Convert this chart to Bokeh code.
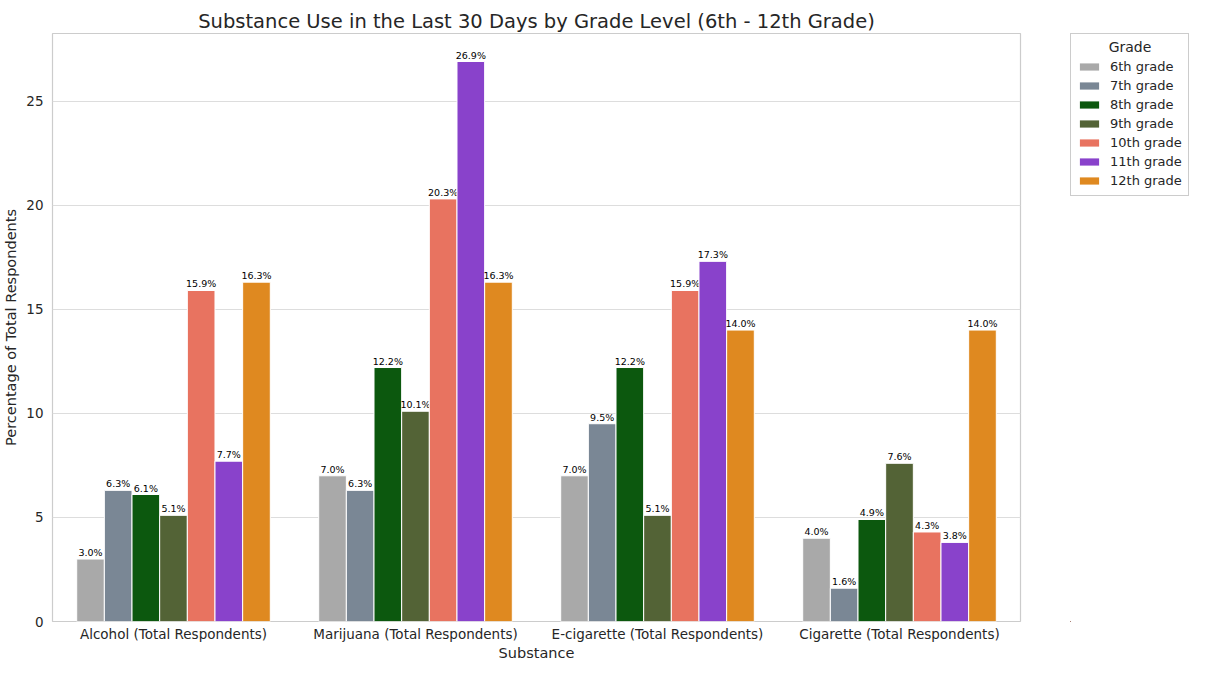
from bokeh.plotting import figure
from bokeh.models import Legend, LegendItem, FixedTicker, ColumnDataSource, Range1d, Label
from bokeh.layouts import row
from bokeh.core.properties import value
from bokeh.embed import file_html
from bokeh.resources import INLINE

substances = ["Alcohol (Total Respondents)", "Marijuana (Total Respondents)",
              "E-cigarette (Total Respondents)", "Cigarette (Total Respondents)"]
grades = ["6th grade", "7th grade", "8th grade", "9th grade", "10th grade", "11th grade", "12th grade"]
grade_6 = [3.0, 7.0, 7.0, 4.0]
grade_7 = [6.3, 6.3, 9.5, 1.6]
grade_8 = [6.1, 12.2, 12.2, 4.9]
grade_9 = [5.1, 10.1, 5.1, 7.6]
grade_10 = [15.9, 20.3, 15.9, 4.3]
grade_11 = [7.7, 26.9, 17.3, 3.8]
grade_12 = [16.3, 16.3, 14.0, 14.0]
series = [grade_6, grade_7, grade_8, grade_9, grade_10, grade_11, grade_12]
colors = ["#A9A9A9", "#7A8795", "#0C580E", "#536336", "#E87360", "#8942CB", "#DF8920"]

FONT = "DejaVu Sans"
TXT = "#262626"

p = figure(width=1028, height=663, output_backend="svg", toolbar_location=None,
           x_range=Range1d(-0.5, 3.5), y_range=Range1d(0, 28.245),
           min_border_left=51, min_border_right=8, min_border_top=27, min_border_bottom=41)
p.title.text = "Substance Use in the Last 30 Days by Grade Level (6th - 12th Grade)"
p.title.text_font = FONT
p.title.text_font_size = "19.5px"
p.title.text_font_style = "normal"
p.title.text_color = TXT
p.title.align = "center"
p.title.standoff = 1

p.background_fill_color = "white"
p.border_fill_color = "white"
p.outline_line_color = "#cccccc"
p.outline_line_width = 1.2

n = len(grades)
w = 0.8 / n
sources = []
for j, (g, vals, c) in enumerate(zip(grades, series, colors)):
    xs = [i - 0.4 + w * (j + 0.5) for i in range(len(substances))]
    src = ColumnDataSource(dict(x=xs, top=vals, lab=[f"{v:.1f}%" for v in vals]))
    sources.append(src)
    p.vbar(x="x", top="top", width=w, source=src, fill_color=c, line_color="white", line_width=1)
    p.text(x="x", y="top", text="lab", source=src, text_align="center", text_baseline="bottom",
           y_offset=-1, text_font_size="9.5px", text_color="black", text_font=value(FONT))

p.xaxis.ticker = FixedTicker(ticks=list(range(len(substances))))
p.xaxis.major_label_overrides = {i: s for i, s in enumerate(substances)}
p.yaxis.ticker = FixedTicker(ticks=[0, 5, 10, 15, 20, 25])
for ax in (p.xaxis, p.yaxis):
    ax.axis_line_color = None
    ax.major_tick_line_color = None
    ax.minor_tick_line_color = None
    ax.major_tick_out = 0
    ax.major_tick_in = 0
    ax.minor_tick_out = 0
    ax.minor_tick_in = 0
    ax.major_label_text_font = FONT
    ax.major_label_text_font_size = "13.5px"
    ax.major_label_text_color = TXT
    ax.axis_label_text_font = FONT
    ax.axis_label_text_font_size = "14.5px"
    ax.axis_label_text_font_style = "normal"
    ax.axis_label_text_color = TXT
p.xaxis.axis_label = "Substance"
p.yaxis.axis_label = "Percentage of Total Respondents"
p.xaxis.major_label_standoff = 4
p.xaxis.axis_label_standoff = 0
p.yaxis.major_label_standoff = 9
p.yaxis.axis_label_standoff = 4

p.xgrid.grid_line_color = None
p.ygrid.grid_line_color = "#dddddd"
p.ygrid.grid_line_width = 1

# legend panel (its bars lie far outside its visible ranges; only the legend shows)
q = figure(width=161, height=663, output_backend="svg", toolbar_location=None,
           x_range=Range1d(100, 101), y_range=Range1d(100, 101),
           min_border_left=42, min_border_right=0, min_border_top=33, min_border_bottom=0)
q.axis.visible = False
q.grid.visible = False
q.outline_line_color = None
q.background_fill_color = "white"
q.border_fill_color = "white"
items = []
for g, c, src in zip(grades, colors, sources):
    r = q.vbar(x="x", top="top", width=w, source=src, fill_color=c, line_color=None)
    items.append(LegendItem(label=g, renderers=[r]))

legend = Legend(items=items, location="top_left", title=" ",
                title_text_font=FONT, title_text_font_size="14px", title_text_font_style="normal",
                title_text_color=TXT, title_standoff=2,
                label_text_font=FONT, label_text_font_size="13px", label_text_color=TXT,
                glyph_width=24, glyph_height=9, label_height=17, spacing=2,
                padding=6, margin=0, border_line_color="#cccccc", border_line_width=1,
                border_line_alpha=1.0, background_fill_alpha=0.0, label_standoff=9)
q.add_layout(legend)
q.add_layout(Label(x=100.5, y=100.977, text="Grade", text_align="center", text_baseline="middle",
                   text_font=FONT, text_font_size="14px", text_color=TXT))

layout = row(p, q, spacing=0)
open("out.html", "w").write(file_html(layout, INLINE))
